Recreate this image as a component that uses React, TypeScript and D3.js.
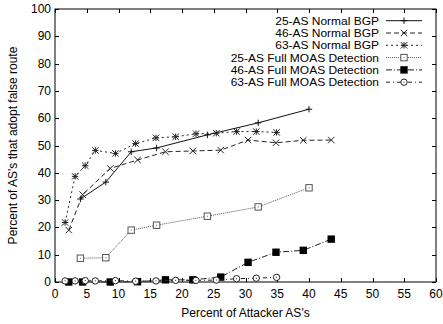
import React from "react";
import * as d3 from "d3";

const W = 443, H = 324;
const M = { left: 55, right: 7, top: 9, bottom: 42 };

const xTicks = [0, 5, 10, 15, 20, 25, 30, 35, 40, 45, 50, 55, 60];
const yTicks = [0, 10, 20, 30, 40, 50, 60, 70, 80, 90, 100];

const as25NormalX = [4, 8, 12, 16, 24, 32, 40];
const as25NormalY = [30.4, 36.6, 47.7, 49.1, 53.9, 58.3, 63.3];

const as46NormalX = [2.17, 4.35, 8.7, 13.0, 17.4, 21.7, 26.1, 30.4, 34.8, 39.1, 43.5];
const as46NormalY = [19.0, 32.0, 41.6, 44.7, 47.7, 48.0, 48.3, 52.0, 51.0, 51.9, 52.0];

const as63NormalX = [1.59, 3.17, 4.76, 6.35, 9.52, 12.7, 15.9, 19.0, 22.2, 25.4, 28.6, 31.7, 34.9];
const as63NormalY = [21.8, 38.7, 42.6, 48.2, 47.1, 50.7, 52.8, 53.2, 54.3, 54.5, 55.1, 55.1, 54.8];

const as25MoasX = [4, 8, 12, 16, 24, 32, 40];
const as25MoasY = [8.7, 8.9, 19.0, 20.8, 24.1, 27.5, 34.5];

const as46MoasX = [2.17, 4.35, 8.7, 13.0, 17.4, 21.7, 26.1, 30.4, 34.8, 39.1, 43.5];
const as46MoasY = [0, 0, 0, 0.1, 0.8, 0.8, 1.8, 7.2, 10.9, 11.6, 15.7];

const as63MoasX = [1.59, 3.17, 4.76, 6.35, 9.52, 12.7, 15.9, 19.0, 22.2, 25.4, 28.6, 31.7, 34.9];
const as63MoasY = [0.4, 0.4, 0.5, 0.4, 0.5, 0.3, 0.4, 0.6, 0.6, 0.7, 1.2, 1.4, 1.7];

type Marker = "plus" | "cross" | "star" | "box" | "fbox" | "circle";

const seriesNames = [
  "25-AS Normal BGP",
  "46-AS Normal BGP",
  "63-AS Normal BGP",
  "25-AS Full MOAS Detection",
  "46-AS Full MOAS Detection",
  "63-AS Full MOAS Detection",
];

const series = [
  { xs: as25NormalX, ys: as25NormalY, marker: "plus" as Marker, dash: "", color: "#111" },
  { xs: as46NormalX, ys: as46NormalY, marker: "cross" as Marker, dash: "5,3", color: "#222" },
  { xs: as63NormalX, ys: as63NormalY, marker: "star" as Marker, dash: "2,3", color: "#222" },
  { xs: as25MoasX, ys: as25MoasY, marker: "box" as Marker, dash: "1,1", color: "#555" },
  { xs: as46MoasX, ys: as46MoasY, marker: "fbox" as Marker, dash: "6,2,1,2", color: "#222" },
  { xs: as63MoasX, ys: as63MoasY, marker: "circle" as Marker, dash: "4,3,1,3", color: "#222" },
];

function MarkerShape({ type, x, y, color }: { type: Marker; x: number; y: number; color: string }) {
  const s = 3.2;
  const sw = 1;
  switch (type) {
    case "plus":
      return (
        <g stroke={color} strokeWidth={sw}>
          <line x1={x - s} y1={y} x2={x + s} y2={y} />
          <line x1={x} y1={y - s} x2={x} y2={y + s} />
        </g>
      );
    case "cross":
      return (
        <g stroke={color} strokeWidth={sw}>
          <line x1={x - s} y1={y - s} x2={x + s} y2={y + s} />
          <line x1={x - s} y1={y + s} x2={x + s} y2={y - s} />
        </g>
      );
    case "star":
      return (
        <g stroke={color} strokeWidth={sw}>
          <line x1={x - s} y1={y} x2={x + s} y2={y} />
          <line x1={x} y1={y - s} x2={x} y2={y + s} />
          <line x1={x - s} y1={y - s} x2={x + s} y2={y + s} />
          <line x1={x - s} y1={y + s} x2={x + s} y2={y - s} />
        </g>
      );
    case "box":
      return (
        <g>
          <rect x={x - s} y={y - s} width={2 * s} height={2 * s} fill="white" stroke={color} strokeWidth={sw} />
          <rect x={x - 0.5} y={y - 0.5} width={1} height={1} fill={color} />
        </g>
      );
    case "fbox":
      return <rect x={x - s - 0.5} y={y - s - 0.5} width={2 * s + 1} height={2 * s + 1} fill="#000" />;
    case "circle":
      return (
        <g>
          <circle cx={x} cy={y} r={s} fill="white" stroke={color} strokeWidth={sw} />
          <rect x={x - 0.5} y={y - 0.5} width={1} height={1} fill={color} />
        </g>
      );
  }
}

export default function App() {
  const x = d3.scaleLinear().domain([0, 60]).range([M.left, W - M.right]);
  const y = d3.scaleLinear().domain([0, 100]).range([H - M.bottom, M.top]);
  const font = "'Liberation Sans', Arial, Helvetica, sans-serif";
  const tl = 4;
  const fs = 12;
  const lfs = 10.8;

  const legendTextX = 379;
  const legendLineX1 = 386;
  const legendLineX2 = 422;
  const legendY0 = 20.7;
  const legendDy = 12.3;

  return (
    <svg width={W} height={H} style={{ position: "absolute", left: 0, top: 0 }} fontFamily={font}>
      <rect x={0} y={0} width={W} height={H} fill="white" />
      {xTicks.map((t) => (
        <g key={"xt" + t} stroke="#000" strokeWidth={1}>
          <line x1={Math.round(x(t)) + 0.5} x2={Math.round(x(t)) + 0.5} y1={y(0)} y2={y(0) - tl} />
          <line x1={Math.round(x(t)) + 0.5} x2={Math.round(x(t)) + 0.5} y1={y(100)} y2={y(100) + tl} />
        </g>
      ))}
      {yTicks.map((t) => (
        <g key={"yt" + t} stroke="#000" strokeWidth={1}>
          <line x1={x(0)} x2={x(0) + tl} y1={Math.round(y(t)) + 0.5} y2={Math.round(y(t)) + 0.5} />
          <line x1={x(60)} x2={x(60) - tl} y1={Math.round(y(t)) + 0.5} y2={Math.round(y(t)) + 0.5} />
        </g>
      ))}
      <rect x={x(0)} y={y(100)} width={x(60) - x(0)} height={y(0) - y(100)} fill="none" stroke="#000" strokeWidth={1} />
      {xTicks.map((t) => (
        <text key={"xl" + t} x={x(t)} y={y(0) + 16} fontSize={fs} textAnchor="middle" fill="#000">
          {t}
        </text>
      ))}
      {yTicks.map((t) => (
        <text key={"yl" + t} x={x(0) - 4} y={y(t) + 4} fontSize={fs} textAnchor="end" fill="#000">
          {t}
        </text>
      ))}
      <text x={(x(0) + x(60)) / 2} y={317} fontSize={fs} textAnchor="middle" fill="#000">
        Percent of Attacker AS's
      </text>
      <text
        transform={`translate(17, ${(y(0) + y(100)) / 2}) rotate(-90)`}
        fontSize={fs}
        textAnchor="middle"
        fill="#000"
      >
        Percent of AS's that adopt false route
      </text>

      {series.map((s, i) => {
        const line = d3
          .line<number>()
          .x((_, j) => x(s.xs[j]))
          .y((v) => y(v));
        return (
          <g key={"s" + i}>
            <path d={line(s.ys) || ""} fill="none" stroke={s.color} strokeWidth={1} strokeDasharray={s.dash} />
            {s.ys.map((v, j) => (
              <MarkerShape key={j} type={s.marker} x={x(s.xs[j])} y={y(v)} color={s.color} />
            ))}
          </g>
        );
      })}

      {seriesNames.map((name, i) => {
        const s = series[i];
        const ly = legendY0 + i * legendDy;
        return (
          <g key={"lg" + i}>
            <text
              transform={`translate(${legendTextX}, ${ly + 4}) scale(1.11, 1)`}
              fontSize={lfs}
              textAnchor="end"
              fill="#000"
            >
              {name}
            </text>
            <line x1={legendLineX1} x2={legendLineX2} y1={ly} y2={ly} stroke={s.color} strokeWidth={1} strokeDasharray={s.dash} />
            <MarkerShape type={s.marker} x={(legendLineX1 + legendLineX2) / 2} y={ly} color={s.color} />
          </g>
        );
      })}
    </svg>
  );
}
